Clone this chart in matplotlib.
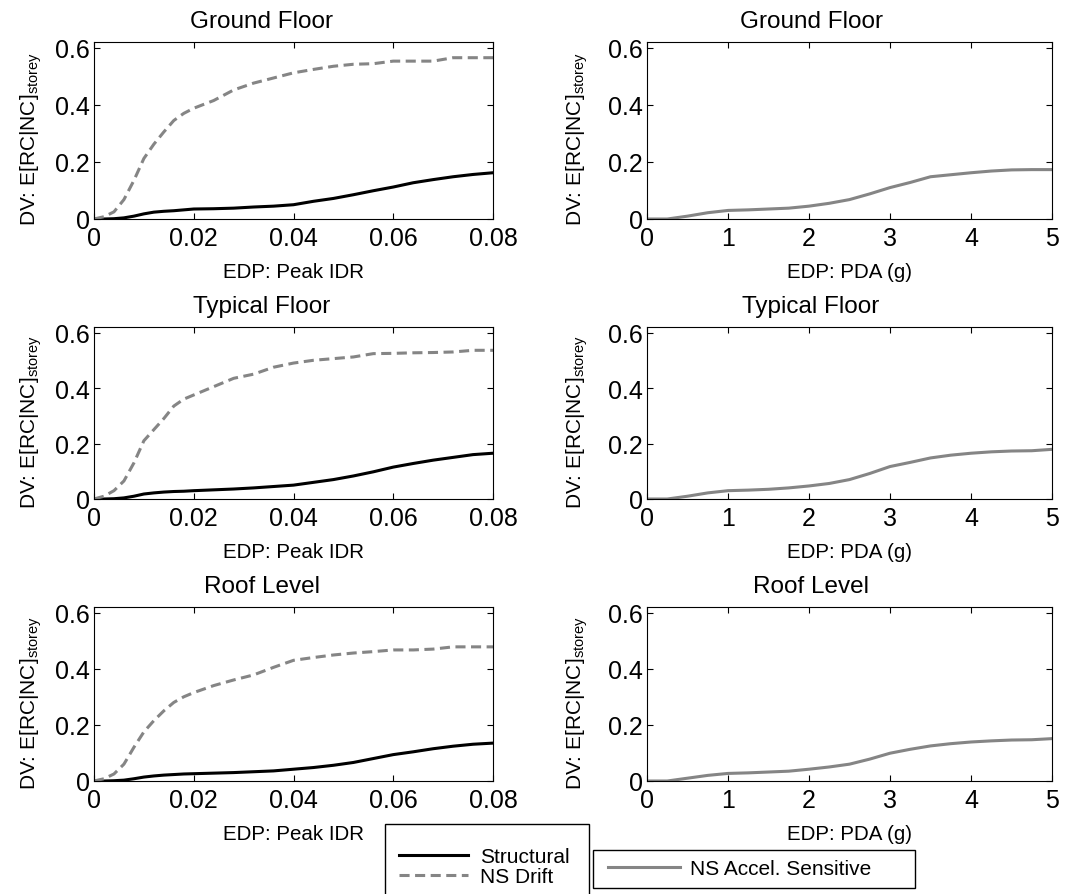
import matplotlib
matplotlib.use('Agg')
from matplotlib import pyplot as plt
from matplotlib.lines import Line2D
from matplotlib.patches import Rectangle
from matplotlib.ticker import FuncFormatter
import numpy as np

plt.rcParams['font.family'] = ['Liberation Sans', 'DejaVu Sans']
plt.rcParams['mathtext.fontset'] = 'custom'
plt.rcParams['mathtext.rm'] = 'Liberation Sans'

W, H = 1074, 895
GREY = '#858585'

floors = ['Ground Floor', 'Typical Floor', 'Roof Level']

# -- Drift sensitive (peak IDR) ----------------------------------------------
idr = [0, .002, .004, .006, .008, .010, .012, .014, .016, .018, .020, .024,
       .028, .032, .036, .040, .044, .048, .052, .056, .060, .064, .068,
       .072, .076, .080]

struct_ground = [0, 0, .001, .004, .010, .018, .024, .027, .029, .032, .035,
                 .036, .038, .042, .045, .050, .062, .072, .085, .099, .112,
                 .127, .138, .148, .156, .162]
struct_typical = [0, 0, .001, .004, .010, .018, .022, .025, .027, .028, .030,
                  .033, .036, .040, .045, .050, .060, .070, .083, .098, .115,
                  .128, .140, .150, .160, .165]
struct_roof = [0, 0, .001, .003, .008, .014, .018, .021, .023, .025, .026,
               .028, .030, .033, .036, .042, .048, .056, .066, .080, .094,
               .104, .115, .124, .131, .135]

drift_ground = [0, .008, .025, .068, .135, .212, .262, .305, .345, .370, .388,
                .415, .452, .476, .494, .512, .524, .535, .542, .544, .553,
                .553, .553, .565, .565, .565]
drift_typical = [0, .010, .030, .065, .130, .210, .250, .290, .335, .360,
                 .375, .405, .435, .450, .475, .490, .500, .506, .512, .524,
                 .525, .527, .528, .530, .536, .536]
drift_roof = [0, .008, .025, .060, .120, .175, .215, .250, .280, .300, .315,
              .340, .360, .378, .405, .430, .440, .449, .456, .461, .467,
              .467, .470, .478, .478, .478]

# -- Acceleration sensitive (PDA) --------------------------------------------
pda = [0, .25, .5, .75, 1.0, 1.25, 1.5, 1.75, 2.0, 2.25, 2.5, 2.75, 3.0,
       3.25, 3.5, 3.75, 4.0, 4.25, 4.5, 4.75, 5.0]

accel_ground = [0, 0, .010, .022, .030, .032, .035, .038, .045, .055, .068,
                .088, .110, .128, .148, .155, .162, .168, .172, .173, .173]
accel_typical = [0, 0, .010, .022, .030, .032, .035, .040, .047, .056, .070,
                 .092, .117, .132, .148, .158, .165, .170, .173, .174, .179]
accel_roof = [0, 0, .010, .020, .027, .029, .032, .035, .042, .050, .060,
              .078, .099, .113, .125, .133, .139, .143, .146, .147, .151]

structural = [struct_ground, struct_typical, struct_roof]
drift = [drift_ground, drift_typical, drift_roof]
accel = [accel_ground, accel_typical, accel_roof]

# axes boxes in pixels: (left, right) per column, (top, bottom) per row
cols = [(94, 493), (647, 1052)]
rows = [(43, 220), (328, 500), (608, 782)]

fmt = FuncFormatter(lambda v, p: '%g' % v)
fig = plt.figure(figsize=(W / 100, H / 100), dpi=100)


def px(x, y):
    return x / W, 1 - y / H


def make_axes(col, row):
    l, r = cols[col]
    t, b = rows[row]
    ax = fig.add_axes([l / W, 1 - b / H, (r - l) / W, (b - t) / H])
    ax.set_ylim(0, 0.62)
    ax.set_yticks([0, 0.2, 0.4, 0.6])
    ax.xaxis.set_major_formatter(fmt)
    ax.yaxis.set_major_formatter(fmt)
    ax.tick_params(direction='in', length=4, width=0.8, top=True, right=True,
                   labelsize=18, pad=5)
    ax.tick_params(axis='y', pad=3)
    for s in ax.spines.values():
        s.set_linewidth(0.8)
    ax.set_ylabel('DV: E[RC|NC]$_{\\mathrm{storey}}$', fontsize=15)
    return ax


for i, name in enumerate(floors):
    ax = make_axes(0, i)
    ax.plot(idr, structural[i], color='black', lw=2.2)
    ax.plot(idr, drift[i], color=GREY, lw=2.2, dashes=(3.3, 1.8))
    ax.set_xlim(0, 0.08)
    ax.set_xticks(np.arange(0, 0.081, 0.02))
    ax.set_xlabel('EDP: Peak IDR', fontsize=14.8, labelpad=9)
    ax.set_title(name, fontsize=17.5, x=0.42, pad=11)
    ax.yaxis.set_label_coords(-0.125, 0.455)

    ax = make_axes(1, i)
    ax.plot(pda, accel[i], color=GREY, lw=2.2)
    ax.set_xlim(0, 5)
    ax.set_xticks(range(6))
    ax.set_xlabel('EDP: PDA (g)', fontsize=14.8, labelpad=9)
    ax.set_title(name, fontsize=17.5, x=0.405, pad=11)
    ax.yaxis.set_label_coords(-0.14, 0.455)

# -- Legends -----------------------------------------------------------------
# frames drawn as plain boxes, legend entries placed inside without a frame
fig.patches.append(Rectangle(px(385, 905), 204 / W, 80 / H, fill=False,
                             ec='black', lw=1.0, transform=fig.transFigure))
fig.patches.append(Rectangle(px(593, 889), 322 / W, 38 / H, fill=False,
                             ec='black', lw=1.0, transform=fig.transFigure))

h_struct = Line2D([], [], color='black', lw=2.2)
h_drift = Line2D([], [], color=GREY, lw=2.2, dashes=(3.3, 1.8))
h_accel = Line2D([], [], color=GREY, lw=2.2)

common = dict(loc='center left', frameon=False, fontsize=15, borderpad=0,
              borderaxespad=0)
fig.legend([h_struct, h_drift], ['Structural', 'NS Drift'],
           bbox_to_anchor=px(399, 867.5), handlelength=3.3,
           handletextpad=0.58, labelspacing=0.06, **common)
fig.legend([h_accel], ['NS Accel. Sensitive'],
           bbox_to_anchor=px(608, 870), handlelength=3.45,
           handletextpad=0.48, **common)

fig.savefig('out.png', dpi=100)
